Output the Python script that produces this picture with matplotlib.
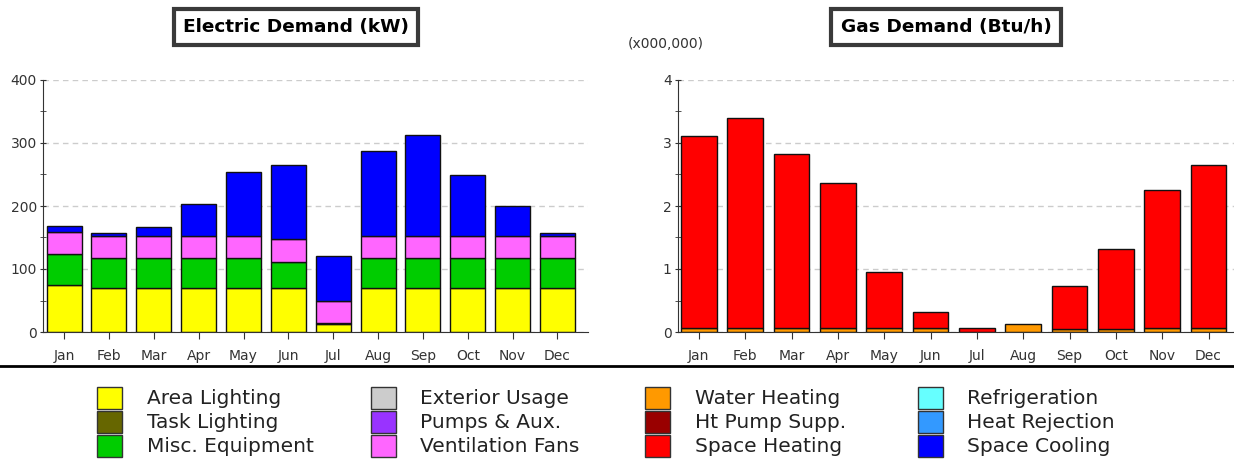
import matplotlib
matplotlib.use("Agg")
import matplotlib.pyplot as plt
from matplotlib.patches import Rectangle
import numpy as np

months = ["Jan", "Feb", "Mar", "Apr", "May", "Jun", "Jul", "Aug", "Sep", "Oct", "Nov", "Dec"]

# Electric demand (kW)
area_lighting = [75, 70, 70, 70, 70, 70, 12, 70, 70, 70, 70, 70]
misc_equipment = [49, 47, 47, 47, 47, 41.5, 2, 47, 47, 47, 47, 47]
ventilation_fans = [34.5, 36, 36, 36, 36, 35.5, 35, 36, 36, 36, 36, 36]
space_cooling = [9, 4, 13, 50, 100.5, 118, 71, 134.5, 159, 96, 47, 4]

# Gas demand (x000,000 Btu/h)
water_heating = [0.07, 0.07, 0.07, 0.07, 0.07, 0.07, 0.0, 0.12, 0.05, 0.05, 0.07, 0.07]
space_heating = [3.04, 3.33, 2.76, 2.30, 0.88, 0.24, 0.07, 0.0, 0.68, 1.27, 2.18, 2.58]

legend_labels = [
    "Area Lighting", "Task Lighting", "Misc. Equipment",
    "Exterior Usage", "Pumps & Aux.", "Ventilation Fans",
    "Water Heating", "Ht Pump Supp.", "Space Heating",
    "Refrigeration", "Heat Rejection", "Space Cooling",
]
legend_colors = [
    "#FFFF00", "#666600", "#00CC00",
    "#CCCCCC", "#9933FF", "#FF66FF",
    "#FF9900", "#990000", "#FF0000",
    "#66FFFF", "#3399FF", "#0000FF",
]

W, H = 1234, 473
fig = plt.figure(figsize=(W / 100, H / 100), dpi=100)

def ax_rect(x0, y0, x1, y1):
    return [x0 / W, 1 - y1 / H, (x1 - x0) / W, (y1 - y0) / H]

def style_axes(ax, ymax, ystep, minor):
    ax.set_ylim(0, ymax)
    ax.set_yticks(np.arange(0, ymax + ystep / 2, ystep))
    ax.set_yticks(np.arange(minor, ymax, ystep), minor=True)
    ax.yaxis.grid(True, which="major", linestyle=(0, (4, 3)), color="#CCCCCC", linewidth=1)
    ax.set_axisbelow(True)
    for s in ["top", "right"]:
        ax.spines[s].set_visible(False)
    ax.spines["left"].set_color("#333333")
    ax.spines["bottom"].set_color("#333333")
    ax.tick_params(axis="y", which="major", length=5, direction="inout", labelsize=10, colors="#333333", pad=2)
    ax.tick_params(axis="y", which="minor", length=5, direction="inout", color="#333333")
    ax.tick_params(axis="x", length=5, direction="out", labelsize=10, colors="#333333", pad=7)
    ax.set_xticks(np.arange(len(months)))
    ax.set_xticklabels(months)

x = np.arange(len(months))

# Electric demand chart
ax1 = fig.add_axes(ax_rect(43, 80, 588, 332))
bw1 = 0.78
bottom = np.zeros(12)
for vals, col in [(area_lighting, "#FFFF00"), (misc_equipment, "#00CC00"),
                  (ventilation_fans, "#FF66FF"), (space_cooling, "#0000FF")]:
    v = np.array(vals, dtype=float)
    ax1.bar(x, v, bw1, bottom=bottom, color=col, edgecolor="#111111", linewidth=1)
    bottom += v
style_axes(ax1, 400, 100, 50)
ax1.set_xlim(-0.47, 11.68)

# Gas demand chart
ax2 = fig.add_axes(ax_rect(678, 80, 1234, 332))
bw2 = 0.77
bottom = np.zeros(12)
for vals, col in [(water_heating, "#FF9900"), (space_heating, "#FF0000")]:
    v = np.array(vals, dtype=float)
    mask = v > 0
    ax2.bar(x[mask], v[mask], bw2, bottom=bottom[mask], color=col, edgecolor="#111111", linewidth=1)
    bottom += v
style_axes(ax2, 4, 1, 0.5)
ax2.set_xlim(-0.45, 11.55)

# Titles
box = dict(boxstyle="square,pad=0.5", facecolor="white", edgecolor="#3a3a3a", linewidth=3)
fig.text(296 / W, 1 - 27 / H, "Electric Demand (kW)", ha="center", va="center",
         fontsize=13.3, fontweight="bold", bbox=box)
fig.text(946 / W, 1 - 27 / H, "Gas Demand (Btu/h)", ha="center", va="center",
         fontsize=13.3, fontweight="bold", bbox=box)
fig.text(628 / W, 1 - 44 / H, "(x000,000)", ha="left", va="center", fontsize=10, color="#333333")

# Separator line
fig.add_artist(plt.Line2D([0, 1], [1 - 366 / H, 1 - 366 / H], color="black", linewidth=2))

# Legend
col_patch_x = [97, 371, 645, 918]
col_text_x = [147, 420, 695, 967]
row_y = [398, 422, 446]
for i, (lab, col) in enumerate(zip(legend_labels, legend_colors)):
    c, r = divmod(i, 3)
    px, py = col_patch_x[c], row_y[r]
    fig.add_artist(Rectangle((px / W, 1 - (py + 11) / H), 25 / W, 22 / H,
                             facecolor=col, edgecolor="#333333", linewidth=1,
                             transform=fig.transFigure))
    fig.text(col_text_x[c] / W, 1 - py / H, lab, ha="left", va="center",
             fontsize=14.5, color="#222222")

fig.savefig("out.png", dpi=100)
